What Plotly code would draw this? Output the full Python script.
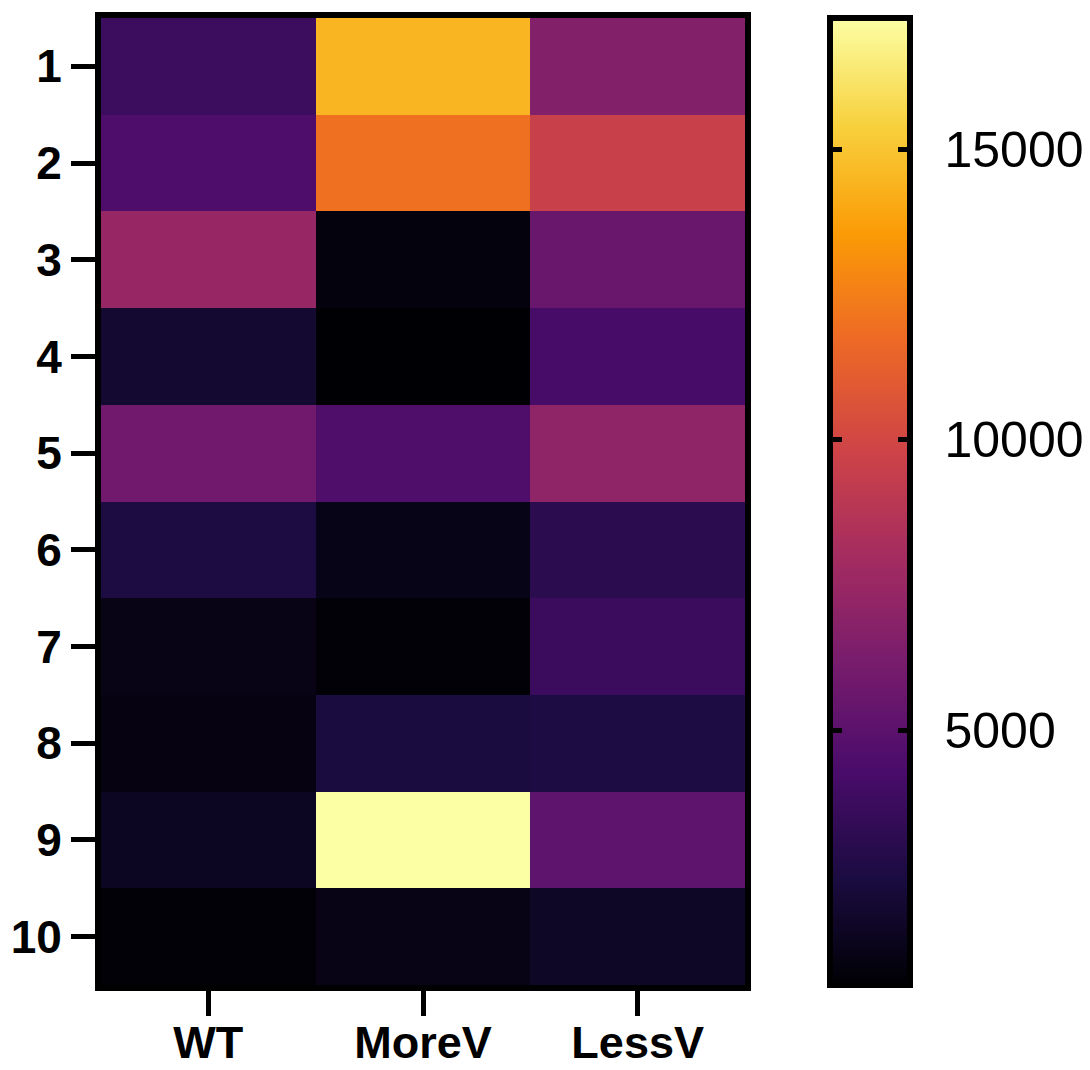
import plotly.graph_objects as go

# ---- data ----
groups = ["WT", "MoreV", "LessV"]
rows = ["1", "2", "3", "4", "5", "6", "7", "8", "9", "10"]
wt = [3760, 4470, 7400, 1970, 5880, 2520, 1150, 990, 1520, 730]
morev = [14510, 11990, 850, 610, 4540, 1180, 740, 2400, 17270, 1150]
lessv = [6610, 9570, 5530, 4200, 7110, 3060, 3710, 2540, 5110, 1630]
cbar_ticks = [5000, 10000, 15000]

z = [[a, b, c] for a, b, c in zip(wt, morev, lessv)]
zmin = min(min(wt), min(morev), min(lessv))
zmax = max(max(wt), max(morev), max(lessv))

OFF = 8                      # default page margin of the html body
W, H = 1090 - OFF, 1070 - OFF
# plot area in page pixels (inner edge of the frame), converted to figure pixels
px_l, px_r, px_t, px_b = 101 - OFF, 745 - OFF, 18 - OFF, 985 - OFF
FONT = "Liberation Sans, Arial, sans-serif"

cb_len = px_b - px_t
cb_y = 1 - (px_t + px_b) / 2 / H
cb_left = 822
cb_thick = 80

transparent = [[0, "rgba(0,0,0,0)"], [1, "rgba(0,0,0,0)"]]

fig = go.Figure()

# main heatmap + colorbar (gradient, outline, labels)
fig.add_trace(go.Heatmap(
    z=z, x=groups, y=rows, colorscale="Inferno", zmin=zmin, zmax=zmax,
    colorbar=dict(
        x=cb_left / W, xanchor="left", xpad=0, ypad=0,
        y=cb_y, yanchor="middle", len=cb_len, lenmode="pixels",
        thickness=cb_thick, thicknessmode="pixels",
        outlinewidth=6, outlinecolor="black",
        tickvals=cbar_ticks, ticktext=[str(v) for v in cbar_ticks],
        ticks="outside", ticklen=22, tickcolor="rgba(0,0,0,0)",
        tickfont=dict(family=FONT, size=50, color="black"),
    ),
))

# invisible copy providing inward tick marks on the right edge of the bar
fig.add_trace(go.Heatmap(
    z=z, x=groups, y=rows, colorscale=transparent, zmin=zmin, zmax=zmax,
    opacity=0, hoverinfo="skip",
    colorbar=dict(
        x=cb_left / W, xanchor="left", xpad=0, ypad=0,
        y=cb_y, yanchor="middle", len=cb_len, lenmode="pixels",
        thickness=cb_thick, thicknessmode="pixels",
        outlinewidth=0, tickvals=cbar_ticks,
        ticks="inside", ticklen=12, tickwidth=5, tickcolor="black",
        showticklabels=False,
    ),
))

# invisible copy providing inward tick marks on the left edge of the bar
fig.add_trace(go.Heatmap(
    z=z, x=groups, y=rows, colorscale=transparent, zmin=zmin, zmax=zmax,
    opacity=0, hoverinfo="skip",
    colorbar=dict(
        x=(cb_left - 1) / W, xanchor="left", xpad=0, ypad=0,
        y=cb_y, yanchor="middle", len=cb_len, lenmode="pixels",
        thickness=1, thicknessmode="pixels",
        outlinewidth=0, tickvals=cbar_ticks,
        ticks="outside", ticklen=12, tickwidth=5, tickcolor="black",
        showticklabels=False,
    ),
))

fig.update_layout(
    width=W, height=H,
    margin=dict(l=0, r=0, t=0, b=0, autoexpand=False),
    paper_bgcolor="white", plot_bgcolor="white",
    showlegend=False,
    xaxis=dict(
        domain=[px_l / W, px_r / W],
        showline=True, linewidth=6, linecolor="black", mirror=True,
        ticks="outside", ticklen=25, tickwidth=5, tickcolor="black",
        ticklabelstandoff=-12,
        tickfont=dict(family=FONT, size=45, color="black", weight="bold"),
        showgrid=False, zeroline=False,
    ),
    yaxis=dict(
        domain=[1 - px_b / H, 1 - px_t / H],
        autorange="reversed",
        showline=True, linewidth=6, linecolor="black", mirror=True,
        ticks="outside", ticklen=24, tickwidth=5, tickcolor="black",
        tickfont=dict(family=FONT, size=46, color="black", weight="bold"),
        showgrid=False, zeroline=False,
    ),
)

fig.write_html("out.html")
